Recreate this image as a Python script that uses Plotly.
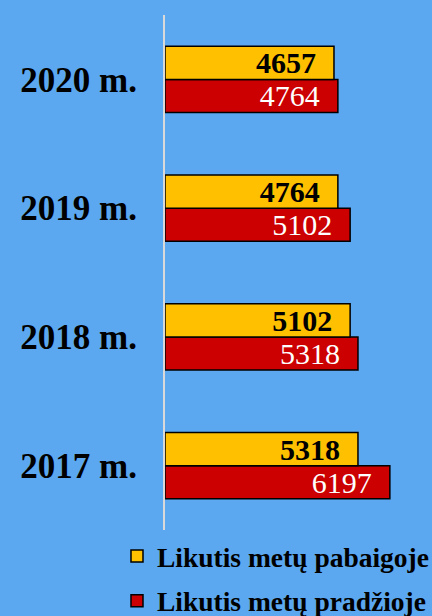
import plotly.graph_objects as go

years = ["2017 m.", "2018 m.", "2019 m.", "2020 m."]
end_of_year = [5318, 5102, 4764, 4657]
start_of_year = [6197, 5318, 5102, 4764]

SERIF = "Liberation Serif"
BG = "#5BA8F1"
PAD = "\u00a0\u00a0"

fig = go.Figure()
# red first so it sits below the yellow bar in each group
fig.add_trace(go.Bar(
    y=years, x=start_of_year, orientation="h", name="Likutis metų pradžioje",
    marker=dict(color="#CC0000", line=dict(color="black", width=1.5)),
    text=start_of_year, texttemplate="%{x}" + PAD, textposition="inside",
    insidetextanchor="end", constraintext="none",
    textfont=dict(family=SERIF, size=30, color="white"),
    legendrank=2, legendgroup="b",
))
fig.add_trace(go.Bar(
    y=years, x=end_of_year, orientation="h", name="Likutis metų pabaigoje",
    marker=dict(color="#FFC000", line=dict(color="black", width=1.5)),
    text=end_of_year, texttemplate="<b>%{x}</b>" + PAD, textposition="inside",
    insidetextanchor="end", constraintext="none",
    textfont=dict(family=SERIF, size=30, color="black"),
    legendrank=1, legendgroup="a",
))

fig.update_layout(
    width=432, height=616,
    paper_bgcolor=BG, plot_bgcolor=BG,
    margin=dict(l=165, r=13, t=15, b=86, autoexpand=False),
    barmode="group", bargap=0.487, bargroupgap=0,
    showlegend=True,
    legend=dict(
        x=-0.189, y=-0.003, xanchor="left", yanchor="top",
        bgcolor="rgba(0,0,0,0)",
        font=dict(family=SERIF, size=27.5, color="black", weight="bold"),
        tracegroupgap=6, itemwidth=30,
    ),
)
fig.update_xaxes(range=[0, 7000], visible=False, showgrid=False, zeroline=False)
fig.update_yaxes(
    showline=True, linecolor="#D9D9D9", linewidth=2, showgrid=False,
    ticklabelstandoff=19,
    tickfont=dict(family=SERIF, size=35, color="black", weight="bold"),
)

fig.write_html("out.html", config={"displayModeBar": False},
               post_script="document.body.style.margin='0';")
